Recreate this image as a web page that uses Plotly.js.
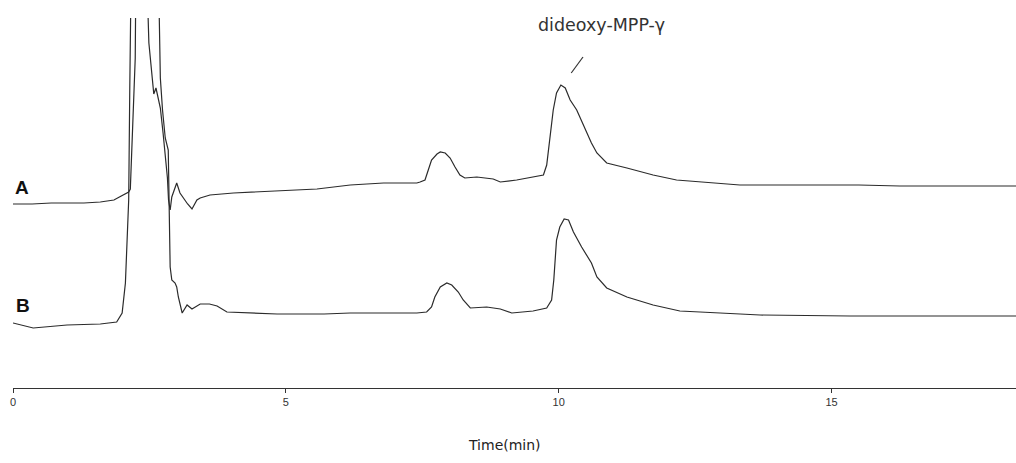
<!DOCTYPE html>
<html>
<head>
<meta charset="utf-8">
<script src="https://cdn.plot.ly/plotly-3.0.1.min.js"></script>
<style>html,body{margin:0;padding:0;background:#fff;}#chart{width:1016px;height:463px;}</style>
</head>
<body>
<div id="chart"></div>
<script>
// Chromatogram A (upper trace), time in min, signal in arbitrary display units
const timeA = [0.00,0.35,0.70,1.00,1.30,1.60,1.85,1.95,2.05,2.12,2.15,2.22,2.24,2.36,2.46,2.49,2.54,2.58,2.62,2.65,2.70,2.75,2.80,2.83,2.85,2.88,2.91,2.94,3.00,3.06,3.12,3.20,3.28,3.37,3.43,3.61,4.04,4.50,4.96,5.57,6.18,6.79,7.09,7.40,7.46,7.55,7.61,7.67,7.77,7.83,7.92,8.01,8.10,8.19,8.28,8.50,8.80,8.93,9.23,9.72,9.78,9.84,9.90,9.96,10.04,10.12,10.21,10.33,10.45,10.60,10.70,10.88,11.25,11.73,12.16,12.59,13.32,14.42,15.50,16.25,17.30,18.38];
const signalA = [184,184,185,185,185,186,188,191,194,196,199,288,330,1200,400,345,318,294,300,292,280,255,225,210,188,178,191,196,205,195,190,184,179,188,190,193,195,196,197,199,203,205,205,205,206,208,218,228,234,236,235,230,221,213,210,211,209,206,208,213,223,248,278,295,303,300,288,278,263,245,235,225,220,213,208,206,203,203,203,202,202,202];

// Chromatogram B (lower trace)
const timeB = [0.00,0.37,0.99,1.60,1.90,2.00,2.06,2.12,2.14,2.40,2.68,2.70,2.74,2.79,2.845,2.88,2.91,2.97,3.00,3.03,3.10,3.19,3.28,3.43,3.60,3.74,3.92,4.35,4.84,5.26,5.70,6.18,6.79,7.09,7.40,7.58,7.67,7.73,7.83,7.95,8.04,8.16,8.25,8.38,8.68,8.93,9.14,9.53,9.78,9.87,9.91,9.96,10.02,10.10,10.18,10.27,10.42,10.60,10.70,10.88,11.25,11.73,12.22,12.59,13.69,15.34,17.17,18.38];
const signalB = [65,60,63,64,66,75,105,188,300,1500,372,310,278,250,238,121,108,105,101,91,75,83,79,84,84,82,76,75,74,74,74,75,75,75,75,76,81,91,101,105,103,96,88,80,81,79,75,77,80,88,108,148,161,169,168,156,141,125,111,100,91,83,77,76,73,72,72,72];

const tickValues = [0, 5, 10, 15];
const tickLabels = ["0", "5", "10", "15"];
const traceLabels = ["A", "B"];
const peakName = "dideoxy-MPP-γ";
const axisTitle = "Time(min)";

const lineStyle = {color: '#2b2b2b', width: 1.2};
const data = [
  {x: timeA, y: signalA, type: 'scatter', mode: 'lines', line: lineStyle, hoverinfo: 'skip', showlegend: false},
  {x: timeB, y: signalB, type: 'scatter', mode: 'lines', line: lineStyle, hoverinfo: 'skip', showlegend: false}
];

const layout = {
  width: 1016, height: 463,
  margin: {l: 13, r: 0, t: 18, b: 75, pad: 0},
  paper_bgcolor: '#fff', plot_bgcolor: '#fff',
  showlegend: false,
  xaxis: {
    range: [0, 18.38], tickmode: 'array', tickvals: tickValues, ticktext: tickLabels,
    ticks: 'outside', ticklen: 4, tickcolor: '#333', tickwidth: 1,
    showline: true, linecolor: '#333', linewidth: 1.2,
    showgrid: false, zeroline: false, fixedrange: true,
    tickfont: {family: 'Liberation Sans, Arial, sans-serif', size: 11, color: '#333'}
  },
  yaxis: {range: [0, 370], visible: false, fixedrange: true},
  annotations: [
    {x: 0.17, y: 201, xref: 'x', yref: 'y', text: traceLabels[0], showarrow: false,
     font: {family: 'Liberation Sans, Arial, sans-serif', size: 19, color: '#111', weight: 'bold'}},
    {x: 0.19, y: 83, xref: 'x', yref: 'y', text: traceLabels[1], showarrow: false,
     font: {family: 'Liberation Sans, Arial, sans-serif', size: 19, color: '#111', weight: 'bold'}},
    {x: 10.78, y: 363, xref: 'x', yref: 'y', text: peakName, showarrow: false,
     font: {family: 'DejaVu Sans, sans-serif', size: 17.5, color: '#333'}},
    {x: 0.49, y: -0.181, xref: 'paper', yref: 'paper', text: axisTitle, showarrow: false,
     font: {family: 'DejaVu Sans, sans-serif', size: 14, color: '#222'}}
  ],
  shapes: [
    {type: 'line', xref: 'x', yref: 'y', x0: 10.23, y0: 315, x1: 10.445, y1: 331,
     line: {color: '#333', width: 1.2}}
  ]
};

Plotly.newPlot('chart', data, layout, {staticPlot: true, displayModeBar: false});
</script>
</body>
</html>
